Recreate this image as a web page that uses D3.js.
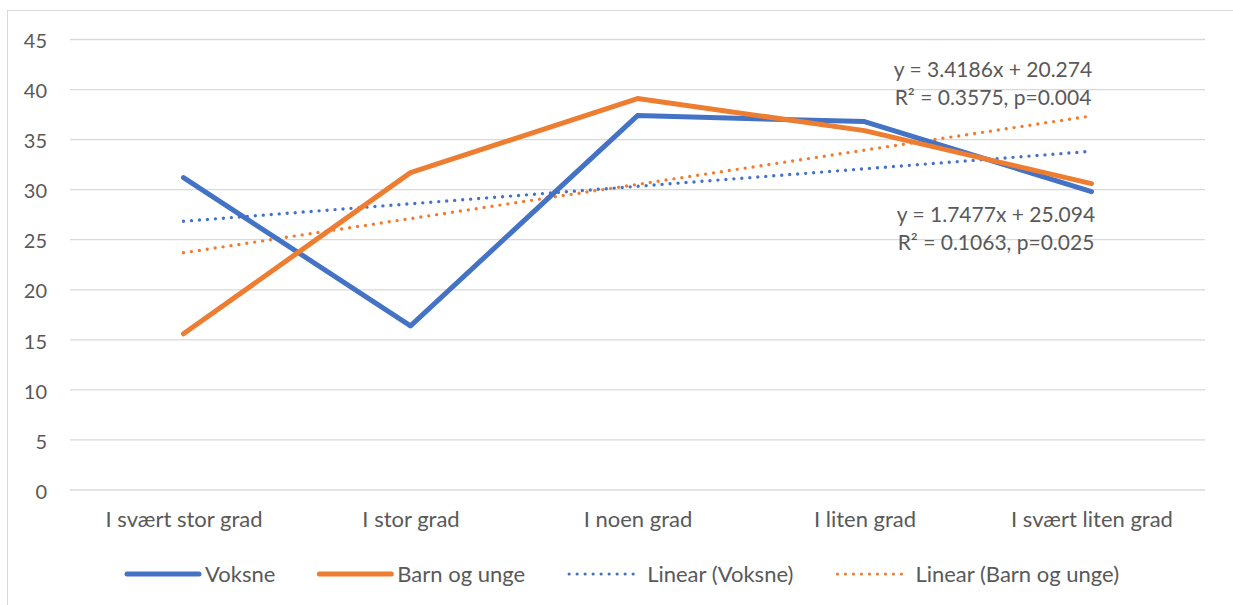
<!DOCTYPE html>
<html><head><meta charset="utf-8">
<script src="https://cdn.jsdelivr.net/npm/d3@7"></script>
<style>
html,body{margin:0;padding:0;background:#fff;}
svg{display:block;font-family:Lato,"Open Sans",sans-serif;}
</style></head>
<body>
<svg id="chart" width="1233" height="605"></svg>
<script>
const categories = ["I svært stor grad","I stor grad","I noen grad","I liten grad","I svært liten grad"];
const voksne = [31.2, 16.4, 37.4, 36.8, 29.8];
const barn = [15.6, 31.7, 39.1, 35.9, 30.6];
const trendVoksne = [1.7477, 25.094];
const trendBarn = [3.4186, 20.274];
const labelVoksne = ["y = 1.7477x + 25.094", "R² = 0.1063, p=0.025"];
const labelBarn = ["y = 3.4186x + 20.274", "R² = 0.3575, p=0.004"];
const yTicks = [0,5,10,15,20,25,30,35,40,45];
const legendItems = ["Voksne","Barn og unge","Linear (Voksne)","Linear (Barn og unge)"];

const blue = "#4472C4", orange = "#ED7D31", txt = "#595959", grid = "#d9d9d9";
const svg = d3.select("#chart");

// outer frame
svg.append("rect").attr("x",7.5).attr("y",10.5).attr("width",1240).attr("height",620)
  .attr("fill","none").attr("stroke","#d9d9d9").attr("stroke-width",1);

const x0 = 70, x1 = 1205;
const y = d3.scaleLinear().domain([0,45]).range([490,39.5]);
const x = d3.scalePoint().domain(categories).range([x0 + (x1-x0)/10, x1 - (x1-x0)/10]);

// gridlines
svg.append("g").selectAll("line").data(yTicks).join("line")
  .attr("x1",x0).attr("x2",x1).attr("y1",d=>y(d)).attr("y2",d=>y(d))
  .attr("stroke",grid).attr("stroke-width",1.3);

// y axis labels
const yAxis = d3.axisLeft(y).tickValues(yTicks).tickSize(0).tickPadding(0);
const gy = svg.append("g").attr("transform","translate(47,0)").call(yAxis);
gy.select(".domain").remove();
gy.selectAll("text").attr("fill",txt).attr("dy","0.36em").attr("y",1)
  .style("font-size","20px").style("font-family","Lato,sans-serif");

// x axis labels
const xAxis = d3.axisBottom(x).tickSize(0).tickPadding(0);
const gx = svg.append("g").attr("transform","translate(0,0)").call(xAxis);
gx.select(".domain").remove();
gx.selectAll("text").attr("fill",txt).attr("y",527).attr("dy",0)
  .style("font-size","22px").style("font-family","Lato,sans-serif");

// trend lines
function trend(coef){ return [1,5].map(i=>({c:categories[i-1], v:coef[0]*i+coef[1]})); }
const tl = d3.line().x(d=>x(d.c)).y(d=>y(d.v));
[[trendVoksne,blue],[trendBarn,orange]].forEach(([c,col])=>{
  svg.append("path").attr("d",tl(trend(c))).attr("fill","none").attr("stroke",col)
    .attr("stroke-width",3.4).attr("stroke-linecap","round").attr("stroke-dasharray","0 8");
});

// series lines
const line = d3.line().x((d,i)=>x(categories[i])).y(d=>y(d));
[[voksne,blue],[barn,orange]].forEach(([s,col])=>{
  svg.append("path").attr("d",line(s)).attr("fill","none").attr("stroke",col)
    .attr("stroke-width",5).attr("stroke-linecap","round").attr("stroke-linejoin","round");
});

// trend labels
function label(lines, cx, yb){
  const t = svg.append("text").attr("text-anchor","middle").attr("fill",txt)
    .style("font-size","21px");
  lines.forEach((l,i)=>t.append("tspan").attr("x",cx).attr("y",yb+i*28).text(l));
}
label(labelBarn, 993, 77);
label(labelVoksne, 996, 222);

// legend
const ly = 574;
const styles = [
  {col:blue,dot:false},{col:orange,dot:false},{col:blue,dot:true},{col:orange,dot:true}
];
let cx = 127;
legendItems.forEach((name,i)=>{
  const s = styles[i];
  const len = 72;
  svg.append("line").attr("x1",cx).attr("x2",cx+len).attr("y1",ly).attr("y2",ly)
    .attr("stroke",s.col).attr("stroke-width",s.dot?3.2:5).attr("stroke-linecap","round")
    .attr("stroke-dasharray",s.dot?"0 8":null);
  const t = svg.append("text").attr("x",cx+len+6).attr("y",ly+8).attr("fill",txt)
    .style("font-size","22px").text(name);
  cx = cx + len + 6 + t.node().getComputedTextLength() + 44;
});
</script>
</body></html>
